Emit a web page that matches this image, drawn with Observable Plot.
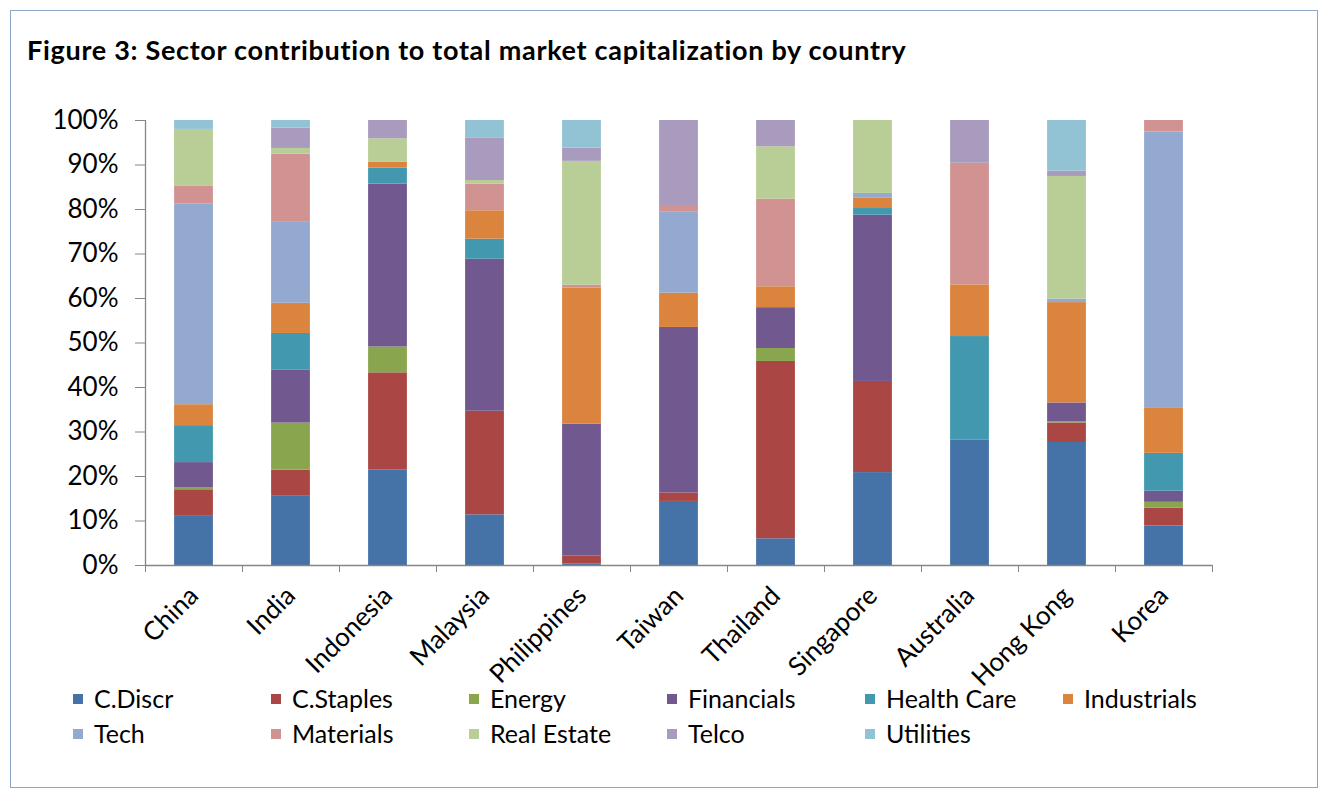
<!DOCTYPE html>
<html>
<head>
<meta charset="utf-8">
<script src="https://cdn.jsdelivr.net/npm/d3@7"></script>
<script src="https://cdn.jsdelivr.net/npm/@observablehq/plot@0.6"></script>
<style>
  html, body { margin: 0; padding: 0; background: #fff; }
  body { width: 1329px; height: 799px; position: relative; overflow: hidden; font-family: Lato, "Open Sans", sans-serif; }
  #frame { position: absolute; left: 10px; top: 10px; width: 1308px; height: 778px; border: 1px solid #8EA6C6; box-sizing: border-box; }
  #title { position: absolute; left: 27px; top: 36px; font-size: 27px; letter-spacing: 0.7px; font-weight: bold; color: #000; white-space: nowrap; line-height: 1; }
  #chart { position: absolute; left: 0; top: 0; }
  .leg { position: absolute; font-size: 25px; color: #000; white-space: nowrap; line-height: 1; }
  .sw { position: absolute; width: 10px; height: 10px; }
</style>
</head>
<body>
<div id="frame"></div>
<div id="title">Figure 3: Sector contribution to total market capitalization by country</div>
<div id="chart"></div>
<div id="legend"></div>
<script>
const countries = ["China","India","Indonesia","Malaysia","Philippines","Taiwan","Thailand","Singapore","Australia","Hong Kong","Korea"];
const sectors = ["C.Discr","C.Staples","Energy","Financials","Health Care","Industrials","Tech","Materials","Real Estate","Telco","Utilities"];
const sectorColors = ["#4572A7","#AA4643","#89A54E","#71588F","#4198AF","#DB843D","#93A9CF","#D19392","#B9CD96","#A99BBD","#92C3D5"];
const yTicks = [0,10,20,30,40,50,60,70,80,90,100];

// values in % per country (same order as countries)
const cDiscr      = [11.2, 15.6, 21.5, 11.4,  0.3, 14.4,  6.0, 20.9, 28.2, 27.7,  8.9];
const cStaples    = [ 5.8,  5.9, 21.8, 23.3,  1.8,  1.9, 39.9, 20.5,  0.0,  4.4,  4.0];
const energy      = [ 0.5, 10.6,  5.8,  0.0,  0.0,  0.0,  2.9,  0.0,  0.0,  0.3,  1.3];
const financials  = [ 5.6, 11.9, 36.6, 34.2, 29.7, 37.2,  9.2, 37.4,  0.0,  4.2,  2.5];
const healthCare  = [ 8.3,  8.3,  3.6,  4.5,  0.0,  0.0,  0.0,  1.5, 23.2,  0.0,  8.5];
const industrials = [ 4.7,  6.8,  1.3,  6.4, 30.7,  7.7,  4.7,  2.3, 11.6, 22.6, 10.1];
const tech        = [45.1, 18.4,  0.0,  0.0,  0.0, 18.3,  0.0,  1.1,  0.0,  0.8, 62.1];
const materials   = [ 3.9, 15.2,  0.0,  6.0,  0.6,  1.4, 19.7,  0.0, 27.3,  0.0,  2.6];
const realEstate  = [12.8,  1.3,  5.3,  0.8, 27.9,  0.0, 11.8, 16.4,  0.0, 27.6,  0.0];
const telco       = [ 0.0,  4.6,  4.1,  9.6,  3.0, 19.1,  5.9,  0.0,  9.6,  1.2,  0.0];
const utilities   = [ 2.0,  1.7,  0.0,  3.9,  6.2,  0.0,  0.0,  0.0,  0.0, 11.4,  0.0];

const series = [cDiscr, cStaples, energy, financials, healthCare, industrials, tech, materials, realEstate, telco, utilities];

// build 100%-stacked table
const rows = [];
countries.forEach((c, i) => {
  const total = d3.sum(series, s => s[i]);
  let cum = 0;
  sectors.forEach((s, k) => {
    const v = series[k][i] / total * 100;
    if (v > 0) rows.push({country: c, idx: i, sector: s, y1: cum, y2: cum + v});
    cum += v;
  });
});

const axisColor = "#868686";
const chart = Plot.plot({
  width: 1329,
  height: 680,
  marginLeft: 145,
  marginRight: 117,
  marginTop: 120,
  marginBottom: 115,
  x: {domain: [0, countries.length], label: null},
  y: {domain: [0, 100], label: null},
  color: {domain: sectors, range: sectorColors},
  style: {fontFamily: "Lato, 'Open Sans', sans-serif", fontSize: "26px", color: "#000", background: "transparent", overflow: "visible"},
  marks: [
    Plot.rect(rows, {x1: d => d.idx + 0.3, x2: d => d.idx + 0.7, y1: "y1", y2: "y2", fill: "sector"}),
    Plot.ruleX([0], {stroke: axisColor, strokeWidth: 1.3}),
    Plot.ruleY([0], {stroke: axisColor, strokeWidth: 1.3}),
    Plot.axisY({ticks: yTicks, tickFormat: d => d + "%", tickSize: 10, tickPadding: 17, stroke: axisColor, label: null, fontSize: 26}),
    Plot.axisX({ticks: d3.range(0, countries.length + 1), tickSize: 7, tickFormat: () => "", stroke: axisColor, label: null}),
    Plot.axisX({ticks: countries.map((c, i) => i + 0.5), tickSize: 0, tickPadding: 26, tickRotate: -45,
                tickFormat: v => countries[Math.floor(v)], label: null, fontSize: 26})
  ]
});
document.getElementById("chart").appendChild(chart);

// legend
const legend = document.getElementById("legend");
sectors.forEach((s, k) => {
  const col = k % 6, row = Math.floor(k / 6);
  const x = 73 + col * 198, y = 699 + row * 35;
  const sw = document.createElement("div");
  sw.className = "sw";
  sw.style.left = x + "px"; sw.style.top = (y - 5) + "px"; sw.style.background = sectorColors[k];
  legend.appendChild(sw);
  const t = document.createElement("div");
  t.className = "leg";
  t.textContent = s;
  t.style.left = (x + 21) + "px"; t.style.top = (y - 13) + "px";
  legend.appendChild(t);
});
</script>
</body>
</html>
